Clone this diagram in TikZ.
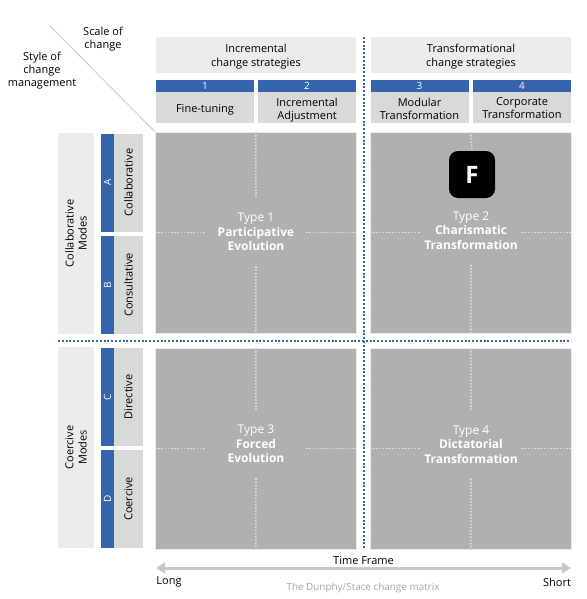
\documentclass[tikz,border=0pt]{standalone}
\usepackage{fontspec}
\setmainfont{Open Sans}
\usepackage{xcolor}
\usetikzlibrary{arrows.meta}
\definecolor{matrix-blue}{HTML}{3564AD}
\definecolor{header-bg}{HTML}{ECECEC}
\definecolor{label-bg}{HTML}{D9D9D9}
\definecolor{quad-bg}{HTML}{B0B0B0}
\definecolor{quad-line}{HTML}{DCDCDC}
\definecolor{axis-line}{HTML}{C8C8C8}
\definecolor{note-text}{HTML}{A6A6A6}
\newcommand{\lowtext}[2]{\raisebox{0pt}[\dimexpr\height+#1+#1\relax][\depth]{\parbox{96pt}{\centering #2}}}

\begin{document}
\begin{tikzpicture}[x=1pt, y=-1pt,
        every node/.style={font=\fontsize{11}{13.2}\selectfont, inner sep=0pt, align=center},
        headbox/.style={fill=header-bg, minimum width=200pt, minimum height=36pt, font=\fontsize{11}{14}\selectfont},
        numbar/.style={fill=matrix-blue, text=white, minimum width=98pt, minimum height=12pt, font=\fontsize{10}{10}\selectfont},
        labelbox/.style={fill=label-bg, minimum width=98pt, minimum height=30pt},
        modebox/.style={fill=header-bg, rotate=90, minimum width=201pt, minimum height=36pt},
        sidebar/.style={fill=matrix-blue, text=white, rotate=90, minimum width=98pt, minimum height=13pt, font=\fontsize{10}{10}\selectfont},
        sidebox/.style={fill=label-bg, rotate=90, minimum width=98pt, minimum height=29pt},
        quadbox/.style={fill=quad-bg, draw=header-bg, line width=0.6pt, minimum width=201pt, minimum height=201pt},
        typelabel/.style={text=white, minimum width=100pt, minimum height=68pt, font=\fontsize{12}{14.5}\selectfont},
        quadline/.style={draw=quad-line, line width=1.6pt, dash pattern=on 1.6pt off 1.6pt},
        quadthin/.style={draw=quad-line, line width=0.9pt, dash pattern=on 1.6pt off 1.6pt},
        divider/.style={draw=matrix-blue, line width=2pt, dash pattern=on 2pt off 1.8pt}]
      \useasboundingbox (0,0) rectangle (586,599);

      % column headers
      \node[headbox] (Hinc) at (256,55) {\lowtext{2pt}{Incremental\\change strategies}};
      \node[headbox] (Htrans) at (471,55) {\lowtext{2pt}{Transformational\\change strategies}};
      \node[numbar] (N1) at (205,86) {1};
      \node[numbar] (N2) at (307,86) {2};
      \node[numbar] (N3) at (419.5,86) {3};
      \node[numbar] (N4) at (522,86) {4};
      \node[labelbox] (L1) at (205,107.5) {\lowtext{2pt}{Fine-tuning}};
      \node[labelbox] (L2) at (307,107.5) {\lowtext{3pt}{Incremental\\Adjustment}};
      \node[labelbox] (L3) at (419.5,107.5) {\lowtext{1pt}{Modular\\Transformation}};
      \node[labelbox] (L4) at (522,107.5) {\lowtext{0.5pt}{Corporate\\Transformation}};

      % row headers
      \node[modebox] (Mcol) at (76,233.5) {Collaborative\\Modes};
      \node[modebox] (Mcoe) at (76,447.5) {Coercive\\Modes};
      \node[sidebar] (SA) at (107.5,182.5) {A};
      \node[sidebar] (SB) at (107.5,285) {B};
      \node[sidebar] (SC) at (107.5,397) {C};
      \node[sidebar] (SD) at (107.5,499) {D};
      \node[sidebox] (BA) at (128.5,182.5) {Collaborative};
      \node[sidebox] (BB) at (128.5,285) {Consultative};
      \node[sidebox] (BC) at (128.5,397) {Directive};
      \node[sidebox] (BD) at (128.5,499) {Coercive};

      % quadrants
      \node[quadbox] (Q1) at (255.7,232.5) {};
      \node[quadbox] (Q2) at (470.7,232.5) {};
      \node[quadbox] (Q3) at (255.7,448.5) {};
      \node[quadbox] (Q4) at (470.7,448.5) {};
      \node[typelabel] (T1) at (256,232) {Type 1\\\textbf{Participative}\\\textbf{Evolution}};
      \node[typelabel] (T2) at (471,230.5) {Type 2\\\textbf{Charismatic}\\\textbf{Transformation}};
      \node[typelabel] (T3) at (256,444) {Type 3\\\textbf{Forced}\\\textbf{Evolution}};
      \node[typelabel] (T4) at (471,444.5) {Type 4\\\textbf{Dictatorial}\\\textbf{Transformation}};
      \node[fill=black, text=white, rounded corners=9pt, minimum width=46pt, minimum height=47pt,
            font=\fontsize{24}{24}\selectfont\bfseries] (Ficon) at (472,174.5) {F};

      \draw[quadline] (Q1.north) -- (T1.north);
      \draw[quadline] (T1.south) -- (Q1.south);
      \draw[quadthin] (Q1.west) -- (Q1.west -| T1.west);
      \draw[quadthin] (Q1.east -| T1.east) -- (Q1.east);
      \draw[quadline] (Q2.north) -- (Ficon.north);
      \draw[quadline] (T2.south) -- (Q2.south);
      \draw[quadthin] (Q2.west) -- (Q2.west -| T2.west);
      \draw[quadthin] (Q2.east -| T2.east) -- (Q2.east);
      \draw[quadline] (Q3.north) -- (T3.north);
      \draw[quadline] (T3.south) -- (Q3.south);
      \draw[quadthin] (Q3.west) -- (Q3.west -| T3.west);
      \draw[quadthin] (Q3.east -| T3.east) -- (Q3.east);
      \draw[quadline] (Q4.north) -- (T4.north);
      \draw[quadline] (T4.south) -- (Q4.south);
      \draw[quadthin] (Q4.west) -- (Q4.west -| T4.west);
      \draw[quadthin] (Q4.east -| T4.east) -- (Q4.east);

      % dividers and corner
      \coordinate (Dtop) at (363.5,37);
      \coordinate (Dbot) at (363.5,549);
      \coordinate (Dleft) at (58,341);
      \coordinate (Dright) at (571,341);
      \draw[divider] (Dtop) -- (Dbot);
      \draw[divider] (Dleft) -- (Dright);
      \coordinate (Cstart) at (50,26);
      \draw[draw=axis-line, line width=0.8pt] (Cstart) -- (Q1.north west);
      \node (Scale) at (103,39) {Scale of\\change};
      \node (Style) at (42,70.5) {Style of\\change\\management};

      % time axis
      \coordinate (Along) at (156,568);
      \coordinate (Ashort) at (571,568);
      \draw[{Triangle[length=9pt,width=11pt]}-{Triangle[length=9pt,width=11pt]}, draw=axis-line, line width=3pt] (Along) -- (Ashort);
      \node (Tframe) at (363.5,561) {Time Frame};
      \node (Long) at (169,582) {Long};
      \node (Short) at (557,582) {Short};
      \node[text=note-text, font=\fontsize{9.9}{11}\selectfont] (Note) at (363,588) {The Dunphy/Stace change matrix};
    \end{tikzpicture}
\end{document}
